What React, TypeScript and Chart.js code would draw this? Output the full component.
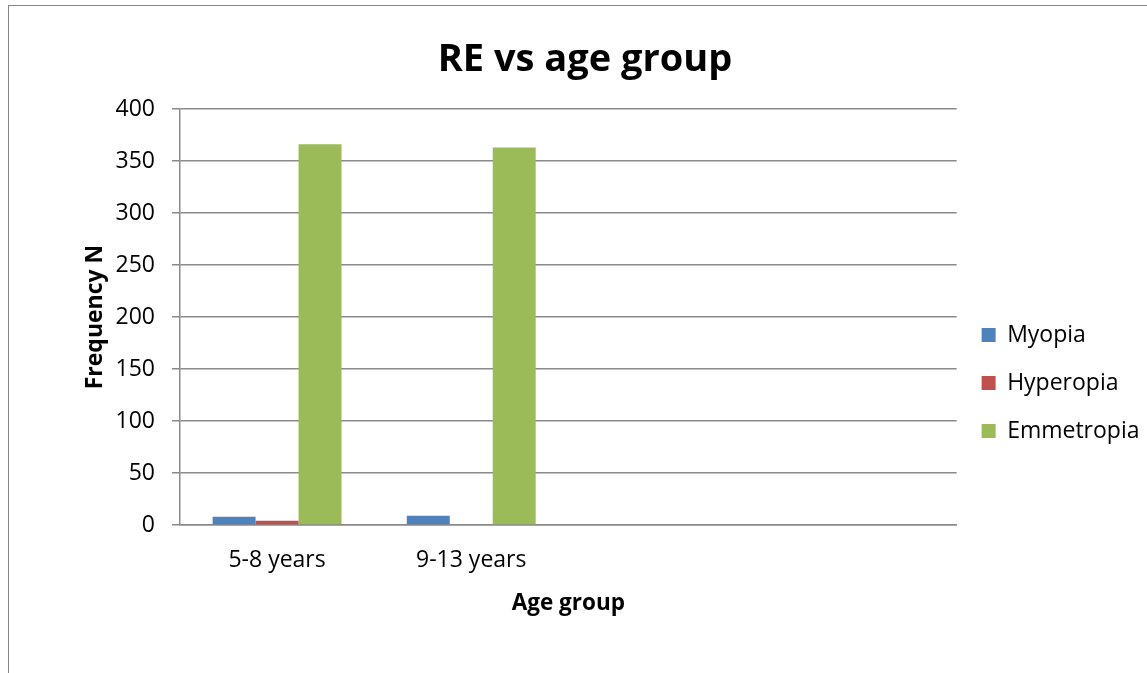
import { useEffect, useRef } from 'react';
import { Chart, registerables } from 'chart.js';

Chart.register(...registerables);

// Age-group categories (the last two slots are empty, as in the source sheet)
const categories = ['5-8 years', '9-13 years', '', ''];

// Frequency per refractive state
const myopia = [8, 9, null, null];
const hyperopia = [4, 0, null, null];
const emmetropia = [366, 363, null, null];

const seriesNames = ['Myopia', 'Hyperopia', 'Emmetropia'];
const seriesColors = ['#4F81BD', '#C0504D', '#9BBB59'];

// Value axis range
const yMin = 0;
const yMax = 400;
const yStep = 50;

const FONT = "'Open Sans', sans-serif";
const LINE = '#8a8a8a';

export default function App() {
  const canvasRef = useRef<HTMLCanvasElement>(null);

  useEffect(() => {
    const values = [myopia, hyperopia, emmetropia];
    const chart = new Chart(canvasRef.current as HTMLCanvasElement, {
      type: 'bar',
      data: {
        labels: categories,
        datasets: seriesNames.map((name, i) => ({
          label: name,
          data: values[i],
          backgroundColor: seriesColors[i],
          borderWidth: 0,
          categoryPercentage: 0.664,
          barPercentage: 1,
        })),
      },
      options: {
        responsive: false,
        animation: false,
        layout: { padding: { left: 20.5, right: -2.5, top: 0, bottom: -93 } },
        plugins: {
          title: {
            display: true,
            text: 'RE vs age group',
            color: '#000',
            font: { family: FONT, size: 38, weight: 'bold' },
            padding: { top: 36.9, bottom: 26.5 },
          },
          legend: {
            position: 'right',
            align: 'center',
            labels: {
              boxWidth: 14,
              boxHeight: 14,
              padding: 25,
              color: '#000',
              font: { family: FONT, size: 23 },
            },
          },
          tooltip: { enabled: false },
        },
        scales: {
          x: {
            grid: { display: false },
            border: { display: true, color: LINE, width: 1.5 },
            ticks: { color: '#000', font: { family: FONT, size: 23 }, padding: 14 },
            title: {
              display: true,
              text: 'Age group',
              color: '#000',
              font: { family: FONT, size: 22.5, weight: 'bold' },
              padding: { top: 0, bottom: 148.8 },
            },
            afterFit: (scale: any) => {
              scale.height = 241;
            },
          },
          y: {
            min: yMin,
            max: yMax,
            ticks: { stepSize: yStep, color: '#000', font: { family: FONT, size: 23 }, padding: 17 },
            grid: { color: LINE, lineWidth: 1.5, tickLength: 8 },
            border: { display: true, color: LINE, width: 1.5 },
            title: {
              display: true,
              text: 'Frequency N',
              color: '#000',
              font: { family: FONT, size: 23, weight: 'bold' },
              padding: { top: 60.7, bottom: 0 },
            },
            afterFit: (scale: any) => {
              scale.width = 159.5;
            },
          },
        },
      },
    } as any);
    return () => chart.destroy();
  }, []);

  return (
    <div
      style={{
        position: 'absolute',
        left: 0,
        top: 0,
        width: 1147,
        height: 673,
        overflow: 'hidden',
        background: '#fff',
      }}
    >
      <div
        style={{
          position: 'absolute',
          left: 8,
          top: 5,
          width: 1200,
          height: 720,
          border: '1px solid #868686',
          boxSizing: 'border-box',
        }}
      />
      <canvas
        ref={canvasRef}
        width={1147}
        height={673}
        style={{ position: 'absolute', left: 0, top: 0 }}
      />
    </div>
  );
}
